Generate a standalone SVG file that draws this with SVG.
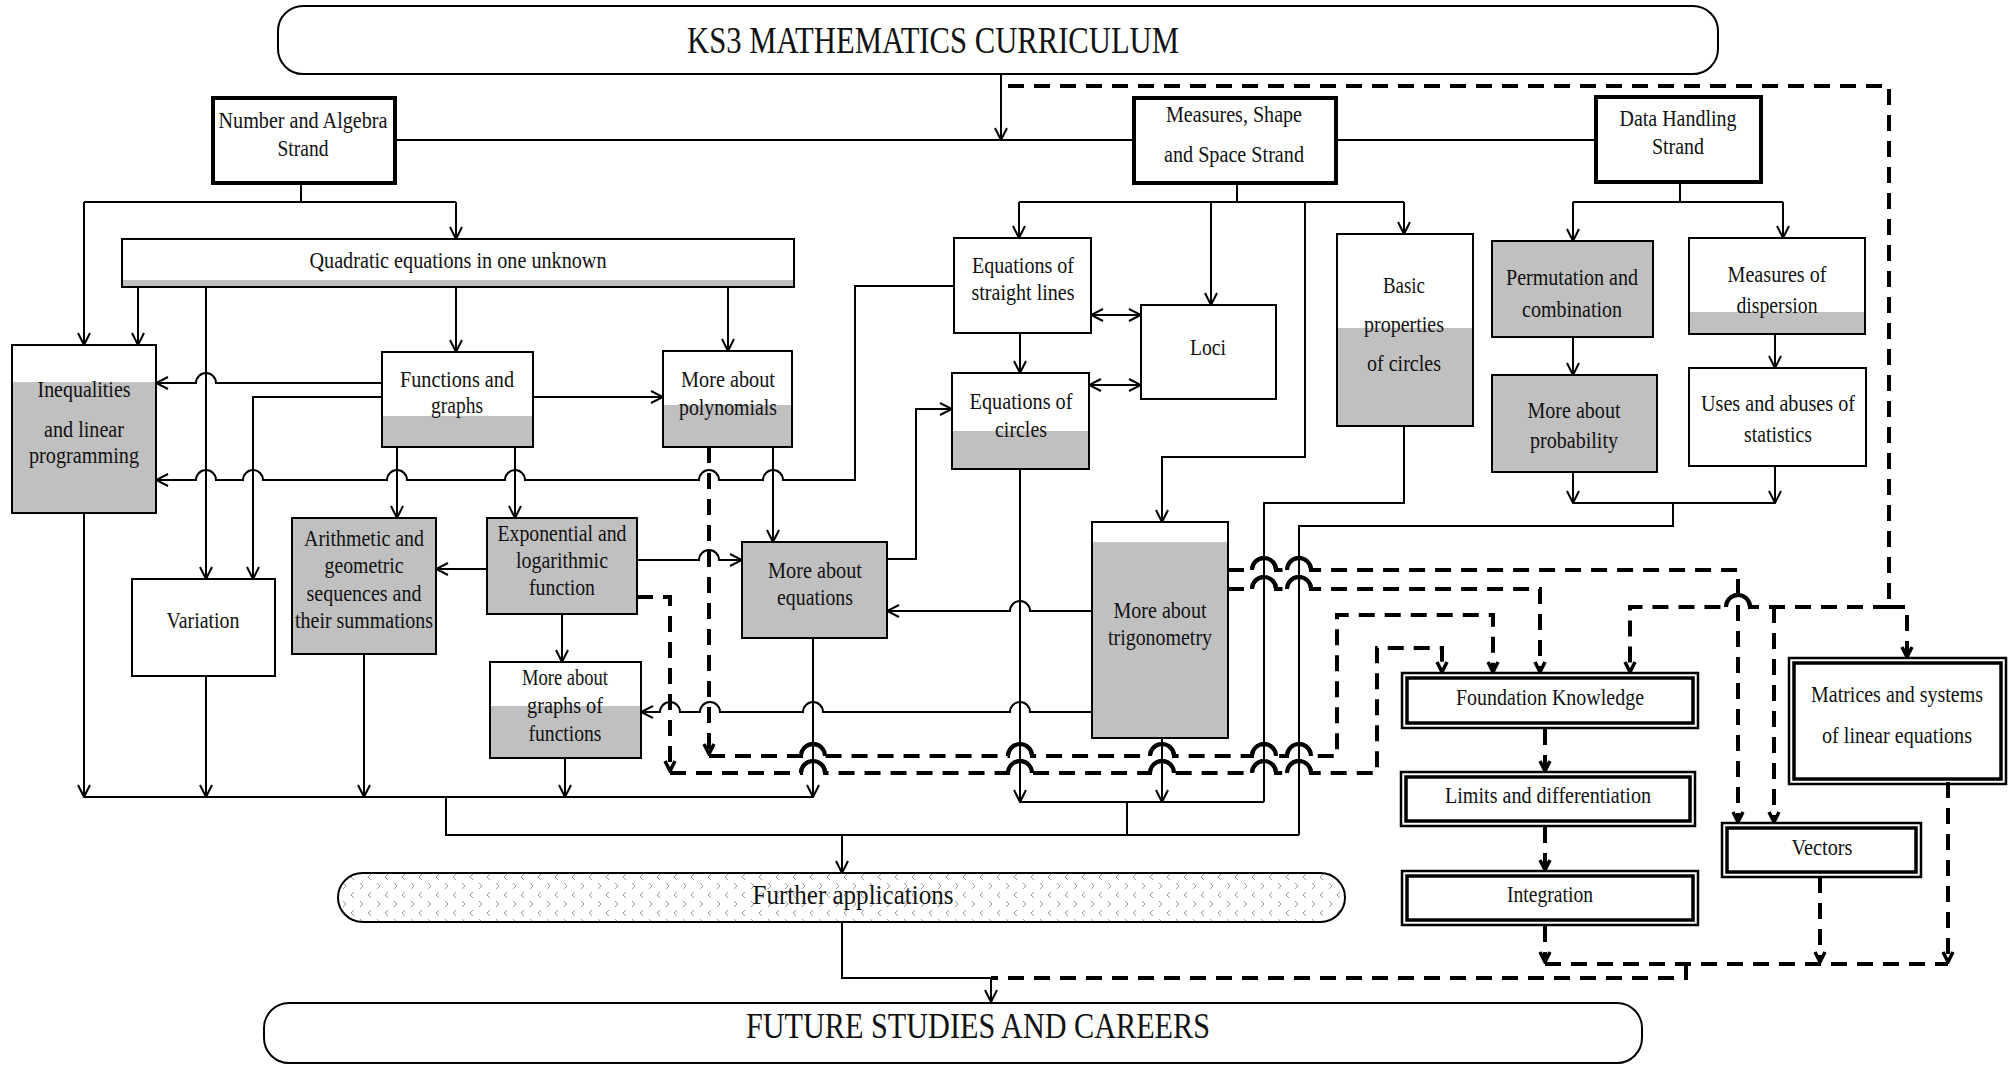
<svg xmlns="http://www.w3.org/2000/svg" width="2016" height="1065" viewBox="0 0 2016 1065">
<style>
.b{fill:none;stroke:#000;stroke-width:2}
.s{fill:none;stroke:#000;stroke-width:4}
.w{fill:#fff}
.g{fill:#c0c0c0}
.o{fill:none;stroke:#000;stroke-width:2.5}
.i{fill:none;stroke:#000;stroke-width:3.5}
.c{fill:none;stroke:#000;stroke-width:2}
.ca{fill:none;stroke:#000;stroke-width:2;marker-end:url(#a)}
.cb{fill:none;stroke:#000;stroke-width:2;marker-start:url(#a);marker-end:url(#a)}
.d{fill:none;stroke:#000;stroke-width:4;stroke-dasharray:16 10}
.da{fill:none;stroke:#000;stroke-width:4;stroke-dasharray:16 10;marker-end:url(#ad)}
.j{fill:none;stroke:#000;stroke-width:4}
text{font-family:"Liberation Serif","Times New Roman",serif;font-size:23px;text-anchor:middle;fill:#111}
.big{font-size:37px}
.fsc{font-size:35px}
.fa{font-size:28px}
</style>
<defs>
<marker id="a" viewBox="0 0 14 14" refX="13" refY="7" markerWidth="14" markerHeight="14" markerUnits="userSpaceOnUse" orient="auto-start-reverse">
<path d="M1,1 L13,7 L1,13" fill="none" stroke="#000" stroke-width="2"/>
</marker>
<marker id="ad" viewBox="0 0 14 14" refX="12" refY="7" markerWidth="14" markerHeight="14" markerUnits="userSpaceOnUse" orient="auto">
<path d="M2,2 L12,7 L2,12" fill="none" stroke="#000" stroke-width="3.5"/>
</marker>
<pattern id="pt" width="17" height="18" patternUnits="userSpaceOnUse">
<rect width="17" height="18" fill="#fff"/>
<path d="M3,1 L6,4 L3,7 M14,10 L11,13 L14,16" stroke="#999" stroke-width="1" fill="none"/>
</pattern>
</defs>

<g id="title">
<rect x="278" y="6" width="1440" height="68" rx="25" class="w"/>
<rect x="278" y="6" width="1440" height="68" rx="25" class="b"/>
<text x="933" y="53" class="big" textLength="492" lengthAdjust="spacingAndGlyphs">KS3 MATHEMATICS CURRICULUM</text>
</g>

<g id="number-algebra">
<rect x="213" y="98" width="182" height="85" class="w"/>
<rect x="213" y="98" width="182" height="85" class="s"/>
<text x="303" y="128" textLength="169" lengthAdjust="spacingAndGlyphs">Number and Algebra</text>
<text x="303" y="156" textLength="51" lengthAdjust="spacingAndGlyphs">Strand</text>
</g>
<g id="measures-shape-space">
<rect x="1134" y="98" width="202" height="85" class="w"/>
<rect x="1134" y="98" width="202" height="85" class="s"/>
<text x="1234" y="122" textLength="136" lengthAdjust="spacingAndGlyphs">Measures, Shape</text>
<text x="1234" y="162" textLength="140" lengthAdjust="spacingAndGlyphs">and Space Strand</text>
</g>
<g id="data-handling">
<rect x="1596" y="97" width="165" height="85" class="w"/>
<rect x="1596" y="97" width="165" height="85" class="s"/>
<text x="1678" y="126" textLength="117" lengthAdjust="spacingAndGlyphs">Data Handling</text>
<text x="1678" y="154" textLength="52" lengthAdjust="spacingAndGlyphs">Strand</text>
</g>

<g id="quadratic">
<rect x="122" y="239" width="672" height="48" class="w"/>
<rect x="122" y="280" width="672" height="7" class="g"/>
<rect x="122" y="239" width="672" height="48" class="b"/>
<text x="458" y="268" textLength="297" lengthAdjust="spacingAndGlyphs">Quadratic equations in one unknown</text>
</g>
<g id="inequalities">
<rect x="12" y="345" width="144" height="168" class="w"/>
<rect x="12" y="382" width="144" height="131" class="g"/>
<rect x="12" y="345" width="144" height="168" class="b"/>
<text x="84" y="397" textLength="93" lengthAdjust="spacingAndGlyphs">Inequalities</text>
<text x="84" y="437" textLength="80" lengthAdjust="spacingAndGlyphs">and linear</text>
<text x="84" y="463" textLength="110" lengthAdjust="spacingAndGlyphs">programming</text>
</g>
<g id="functions-graphs">
<rect x="382" y="352" width="151" height="95" class="w"/>
<rect x="382" y="416" width="151" height="31" class="g"/>
<rect x="382" y="352" width="151" height="95" class="b"/>
<text x="457" y="387" textLength="114" lengthAdjust="spacingAndGlyphs">Functions and</text>
<text x="457" y="413" textLength="52" lengthAdjust="spacingAndGlyphs">graphs</text>
</g>
<g id="polynomials">
<rect x="663" y="351" width="129" height="96" class="w"/>
<rect x="663" y="405" width="129" height="42" class="g"/>
<rect x="663" y="351" width="129" height="96" class="b"/>
<text x="728" y="387" textLength="94" lengthAdjust="spacingAndGlyphs">More about</text>
<text x="728" y="415" textLength="98" lengthAdjust="spacingAndGlyphs">polynomials</text>
</g>
<g id="sequences">
<rect x="292" y="518" width="144" height="136" class="g"/>
<rect x="292" y="518" width="144" height="136" class="b"/>
<text x="364" y="546" textLength="120" lengthAdjust="spacingAndGlyphs">Arithmetic and</text>
<text x="364" y="573" textLength="79" lengthAdjust="spacingAndGlyphs">geometric</text>
<text x="364" y="601" textLength="115" lengthAdjust="spacingAndGlyphs">sequences and</text>
<text x="364" y="628" textLength="138" lengthAdjust="spacingAndGlyphs">their summations</text>
</g>
<g id="exponential">
<rect x="487" y="518" width="150" height="96" class="g"/>
<rect x="487" y="518" width="150" height="96" class="b"/>
<text x="562" y="541" textLength="129" lengthAdjust="spacingAndGlyphs">Exponential and</text>
<text x="562" y="568" textLength="92" lengthAdjust="spacingAndGlyphs">logarithmic</text>
<text x="562" y="595" textLength="66" lengthAdjust="spacingAndGlyphs">function</text>
</g>
<g id="variation">
<rect x="132" y="579" width="143" height="97" class="w"/>
<rect x="132" y="579" width="143" height="97" class="b"/>
<text x="203" y="628" textLength="73" lengthAdjust="spacingAndGlyphs">Variation</text>
</g>
<g id="graphs-of-functions">
<rect x="490" y="662" width="151" height="96" class="w"/>
<rect x="490" y="706" width="151" height="52" class="g"/>
<rect x="490" y="662" width="151" height="96" class="b"/>
<text x="565" y="685" textLength="86" lengthAdjust="spacingAndGlyphs">More about</text>
<text x="565" y="713" textLength="76" lengthAdjust="spacingAndGlyphs">graphs of</text>
<text x="565" y="741" textLength="73" lengthAdjust="spacingAndGlyphs">functions</text>
</g>
<g id="equations">
<rect x="742" y="542" width="145" height="96" class="g"/>
<rect x="742" y="542" width="145" height="96" class="b"/>
<text x="815" y="578" textLength="94" lengthAdjust="spacingAndGlyphs">More about</text>
<text x="815" y="605" textLength="76" lengthAdjust="spacingAndGlyphs">equations</text>
</g>
<g id="straight-lines">
<rect x="954" y="238" width="137" height="95" class="w"/>
<rect x="954" y="238" width="137" height="95" class="b"/>
<text x="1023" y="273" textLength="102" lengthAdjust="spacingAndGlyphs">Equations of</text>
<text x="1023" y="300" textLength="103" lengthAdjust="spacingAndGlyphs">straight lines</text>
</g>
<g id="loci">
<rect x="1141" y="305" width="135" height="94" class="w"/>
<rect x="1141" y="305" width="135" height="94" class="b"/>
<text x="1208" y="355" textLength="36" lengthAdjust="spacingAndGlyphs">Loci</text>
</g>
<g id="circles">
<rect x="952" y="373" width="137" height="96" class="w"/>
<rect x="952" y="431" width="137" height="38" class="g"/>
<rect x="952" y="373" width="137" height="96" class="b"/>
<text x="1021" y="409" textLength="103" lengthAdjust="spacingAndGlyphs">Equations of</text>
<text x="1021" y="437" textLength="52" lengthAdjust="spacingAndGlyphs">circles</text>
</g>
<g id="trigonometry">
<rect x="1092" y="522" width="136" height="216" class="w"/>
<rect x="1092" y="542" width="136" height="196" class="g"/>
<rect x="1092" y="522" width="136" height="216" class="b"/>
<text x="1160" y="618" textLength="93" lengthAdjust="spacingAndGlyphs">More about</text>
<text x="1160" y="645" textLength="104" lengthAdjust="spacingAndGlyphs">trigonometry</text>
</g>
<g id="basic-circles">
<rect x="1337" y="234" width="136" height="192" class="w"/>
<rect x="1337" y="328" width="136" height="98" class="g"/>
<rect x="1337" y="234" width="136" height="192" class="b"/>
<text x="1404" y="293" textLength="42" lengthAdjust="spacingAndGlyphs">Basic</text>
<text x="1404" y="332" textLength="80" lengthAdjust="spacingAndGlyphs">properties</text>
<text x="1404" y="371" textLength="74" lengthAdjust="spacingAndGlyphs">of circles</text>
</g>
<g id="permutation">
<rect x="1492" y="241" width="161" height="96" class="g"/>
<rect x="1492" y="241" width="161" height="96" class="b"/>
<text x="1572" y="285" textLength="132" lengthAdjust="spacingAndGlyphs">Permutation and</text>
<text x="1572" y="317" textLength="100" lengthAdjust="spacingAndGlyphs">combination</text>
</g>
<g id="dispersion">
<rect x="1689" y="238" width="176" height="96" class="w"/>
<rect x="1689" y="312" width="176" height="22" class="g"/>
<rect x="1689" y="238" width="176" height="96" class="b"/>
<text x="1777" y="282" textLength="99" lengthAdjust="spacingAndGlyphs">Measures of</text>
<text x="1777" y="313" textLength="81" lengthAdjust="spacingAndGlyphs">dispersion</text>
</g>
<g id="probability">
<rect x="1492" y="375" width="165" height="97" class="g"/>
<rect x="1492" y="375" width="165" height="97" class="b"/>
<text x="1574" y="418" textLength="93" lengthAdjust="spacingAndGlyphs">More about</text>
<text x="1574" y="448" textLength="88" lengthAdjust="spacingAndGlyphs">probability</text>
</g>
<g id="statistics">
<rect x="1689" y="368" width="177" height="98" class="w"/>
<rect x="1689" y="368" width="177" height="98" class="b"/>
<text x="1778" y="411" textLength="154" lengthAdjust="spacingAndGlyphs">Uses and abuses of</text>
<text x="1778" y="442" textLength="68" lengthAdjust="spacingAndGlyphs">statistics</text>
</g>

<g id="foundation">
<rect x="1402" y="673" width="296" height="55" class="w"/>
<rect x="1402" y="673" width="296" height="55" class="o"/>
<rect x="1407" y="678" width="286" height="45" class="i"/>
<text x="1550" y="705" textLength="188" lengthAdjust="spacingAndGlyphs">Foundation Knowledge</text>
</g>
<g id="limits">
<rect x="1401" y="772" width="294" height="54" class="w"/>
<rect x="1401" y="772" width="294" height="54" class="o"/>
<rect x="1406" y="777" width="284" height="44" class="i"/>
<text x="1548" y="803" textLength="206" lengthAdjust="spacingAndGlyphs">Limits and differentiation</text>
</g>
<g id="integration">
<rect x="1402" y="871" width="296" height="54" class="w"/>
<rect x="1402" y="871" width="296" height="54" class="o"/>
<rect x="1407" y="876" width="286" height="44" class="i"/>
<text x="1550" y="902" textLength="86" lengthAdjust="spacingAndGlyphs">Integration</text>
</g>
<g id="vectors">
<rect x="1722" y="823" width="199" height="54" class="w"/>
<rect x="1722" y="823" width="199" height="54" class="o"/>
<rect x="1727" y="828" width="189" height="44" class="i"/>
<text x="1822" y="855" textLength="61" lengthAdjust="spacingAndGlyphs">Vectors</text>
</g>
<g id="matrices">
<rect x="1789" y="658" width="217" height="126" class="w"/>
<rect x="1789" y="658" width="217" height="126" class="o"/>
<rect x="1794" y="663" width="207" height="116" class="i"/>
<text x="1897" y="702" textLength="172" lengthAdjust="spacingAndGlyphs">Matrices and systems</text>
<text x="1897" y="743" textLength="150" lengthAdjust="spacingAndGlyphs">of linear equations</text>
</g>

<g id="further-applications">
<rect x="338" y="873" width="1007" height="49" rx="24.5" fill="url(#pt)"/>
<rect x="338" y="873" width="1007" height="49" rx="24.5" class="b"/>
<text x="853" y="904" class="fa" textLength="201" lengthAdjust="spacingAndGlyphs">Further applications</text>
</g>
<g id="future">
<rect x="264" y="1003" width="1378" height="60" rx="25" class="w"/>
<rect x="264" y="1003" width="1378" height="60" rx="25" class="b"/>
<text x="978" y="1038" class="fsc" textLength="464" lengthAdjust="spacingAndGlyphs">FUTURE STUDIES AND CAREERS</text>
</g>

<g id="connectors">
<path class="ca" d="M1001,74 V140"/>
<path class="c" d="M395,140 H1134 M1336,140 H1596"/>
<path class="c" d="M301,183 V202 M84,202 H456"/>
<path class="ca" d="M84,202 V345"/>
<path class="ca" d="M456,202 V239"/>
<path class="ca" d="M138,287 V345"/>
<path class="ca" d="M206,287 V579"/>
<path class="ca" d="M456,287 V352"/>
<path class="ca" d="M728,287 V351"/>
<path class="ca" d="M382,383 H216 A10,10 0 0 0 196,383 H156"/>
<path class="ca" d="M382,397 H253 V579"/>
<path class="ca" d="M533,397 H663"/>
<path class="ca" d="M954,286 H855 V480 H783 A10,10 0 0 0 763,480 H719 A10,10 0 0 0 699,480 H525 A10,10 0 0 0 505,480 H407 A10,10 0 0 0 387,480 H263 A10,10 0 0 0 243,480 H216 A10,10 0 0 0 196,480 H156"/>
<path class="ca" d="M397,447 V518"/>
<path class="ca" d="M515,447 V518"/>
<path class="ca" d="M487,569 H436"/>
<path class="ca" d="M637,560 H699 A10,10 0 0 1 719,560 H742"/>
<path class="ca" d="M562,614 V662"/>
<path class="ca" d="M773,447 V542"/>
<path class="ca" d="M887,559 H916 V409 H952"/>
<path class="ca" d="M1092,611 H1030 A10,10 0 0 0 1010,611 H887"/>
<path class="ca" d="M1092,712 H1030 A10,10 0 0 0 1010,712 H823 A10,10 0 0 0 803,712 H720 A10,10 0 0 0 700,712 H680 A10,10 0 0 0 660,712 H641"/>
<path class="c" d="M1237,183 V202 M1019,202 H1404"/>
<path class="ca" d="M1019,202 V238"/>
<path class="ca" d="M1211,202 V305"/>
<path class="ca" d="M1404,202 V234"/>
<path class="ca" d="M1305,202 V457 H1162 V522"/>
<path class="cb" d="M1091,315 H1141"/>
<path class="ca" d="M1020,333 V373"/>
<path class="cb" d="M1089,385 H1141"/>
<path class="c" d="M1680,182 V202 M1573,202 H1783"/>
<path class="ca" d="M1573,202 V241"/>
<path class="ca" d="M1783,202 V238"/>
<path class="ca" d="M1573,337 V375"/>
<path class="ca" d="M1775,334 V368"/>
<path class="ca" d="M1573,472 V503"/>
<path class="ca" d="M1775,466 V503"/>
<path class="c" d="M1573,503 H1775 M1673,503 V526 H1299 V835"/>
<path class="c" d="M1404,426 V503 H1264 V802"/>
<path class="ca" d="M1020,469 V802"/>
<path class="ca" d="M1162,738 V802"/>
<path class="c" d="M1020,802 H1264 M1127,802 V835"/>
<path class="ca" d="M84,513 V797"/>
<path class="ca" d="M206,676 V797"/>
<path class="ca" d="M364,654 V797"/>
<path class="ca" d="M565,758 V797"/>
<path class="ca" d="M813,638 V797"/>
<path class="c" d="M84,797 H813 M446,797 V835 H1299"/>
<path class="ca" d="M842,835 V873"/>
<path class="ca" d="M842,922 V978 H991 V1002"/>

<path class="d" d="M1008,86 H1889 V607"/>
<path class="da" d="M1889,607 H1907 V657"/>
<path class="da" d="M1889,607 H1750 A12,12 0 0 0 1726,607 H1630 V672"/>
<path class="da" d="M1774,607 V822"/>
<path class="da" d="M1228,570 H1252 A12,12 0 0 1 1276,570 H1287 A12,12 0 0 1 1311,570 H1738 V822"/>
<path class="da" d="M1228,589 H1252 A12,12 0 0 1 1276,589 H1287 A12,12 0 0 1 1311,589 H1540 V672"/>
<path class="da" d="M709,447 V754"/>
<path class="da" d="M709,756 H801 A12,12 0 0 1 825,756 H1008 A12,12 0 0 1 1032,756 H1150 A12,12 0 0 1 1174,756 H1252 A12,12 0 0 1 1276,756 H1287 A12,12 0 0 1 1311,756 H1337 V615 H1493 V672"/>
<path class="da" d="M637,597 H670 V771"/>
<path class="da" d="M670,773 H801 A12,12 0 0 1 825,773 H1008 A12,12 0 0 1 1032,773 H1150 A12,12 0 0 1 1174,773 H1252 A12,12 0 0 1 1276,773 H1287 A12,12 0 0 1 1311,773 H1377 V648 H1442 V672"/>
<path class="da" d="M1545,729 V771"/>
<path class="da" d="M1545,827 V870"/>
<path class="da" d="M1545,926 V962"/>
<path class="da" d="M1820,877 V962"/>
<path class="da" d="M1948,782 V962"/>
<path class="d" d="M1545,964 H1948 M1686,964 V978 H991"/>
<path class="j" d="M1750,607 A12,12 0 0 0 1726,607 M1252,570 A12,12 0 0 1 1276,570 M1287,570 A12,12 0 0 1 1311,570 M1252,589 A12,12 0 0 1 1276,589 M1287,589 A12,12 0 0 1 1311,589 M801,756 A12,12 0 0 1 825,756 M1008,756 A12,12 0 0 1 1032,756 M1150,756 A12,12 0 0 1 1174,756 M1252,756 A12,12 0 0 1 1276,756 M1287,756 A12,12 0 0 1 1311,756 M801,773 A12,12 0 0 1 825,773 M1008,773 A12,12 0 0 1 1032,773 M1150,773 A12,12 0 0 1 1174,773 M1252,773 A12,12 0 0 1 1276,773 M1287,773 A12,12 0 0 1 1311,773"/>
</g>
</svg>
